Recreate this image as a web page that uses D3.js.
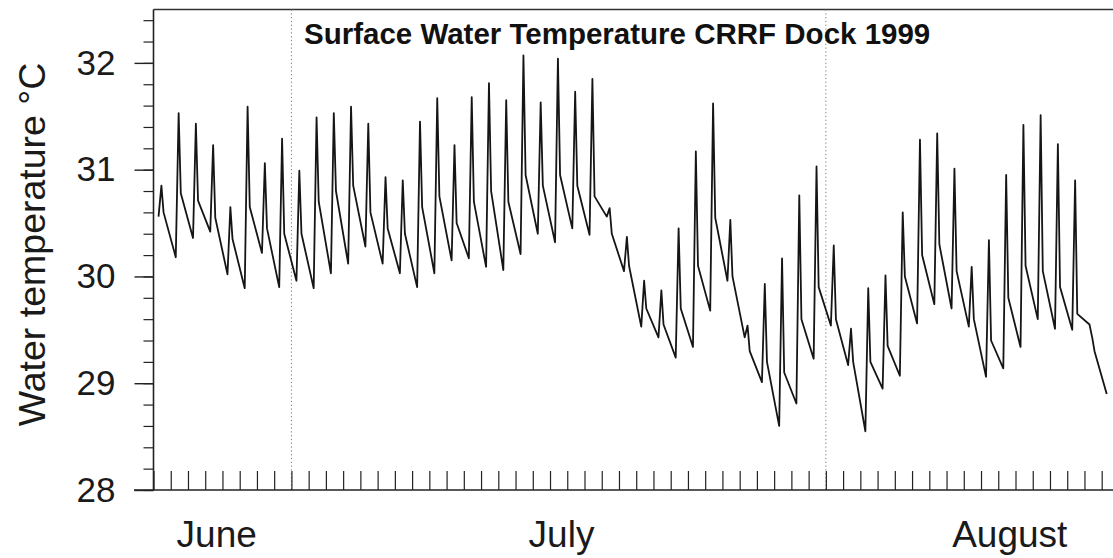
<!DOCTYPE html>
<html><head><meta charset="utf-8">
<script src="https://cdn.jsdelivr.net/npm/d3@7"></script>
<style>html,body{margin:0;padding:0;background:#fff;overflow:hidden;} svg{display:block;font-family:"Liberation Sans",Arial,Helvetica,sans-serif;}</style>
</head><body><svg id="c" width="1113" height="558"></svg>
<script>
// ---------------- data ----------------
const startDay = "1999-06-23";
const endDay = "1999-08-18";
// per-day readings (index 0 = 23 June): morning minimum, afternoon peak, evening value
const dayMin = [30.56,30.18,30.36,30.42,30.02,29.89,30.22,29.90,29.96,29.89,
                30.03,30.12,30.28,30.12,30.03,29.90,30.03,30.15,30.17,30.09,
                30.06,30.21,30.40,30.32,30.45,30.39,30.56,30.05,29.53,29.43,
                29.24,29.34,29.68,29.96,29.43,29.01,28.60,28.81,29.23,29.54,
                29.17,28.55,28.95,29.07,29.56,29.74,29.70,29.53,29.06,29.14,
                29.34,29.60,29.51,29.50,29.55,28.90];
const dayMax = [30.85,31.53,31.43,31.23,30.65,31.59,31.06,31.29,30.99,31.49,
                31.53,31.59,31.43,30.93,30.90,31.45,31.67,31.23,31.68,31.81,
                31.65,32.07,31.63,32.04,31.73,31.85,30.64,30.37,29.96,29.87,
                30.45,31.17,31.62,30.53,29.54,29.93,30.17,30.76,31.03,30.29,
                29.51,29.89,30.01,30.60,31.28,31.34,31.01,30.09,30.34,30.95,
                31.42,31.51,31.24,30.90,29.42,null];
const dayEve = [30.60,30.78,30.71,30.55,30.35,30.65,30.45,30.40,30.40,30.70,
                30.80,30.85,30.60,30.45,30.40,30.65,30.75,30.50,30.70,30.80,
                30.70,30.95,30.85,30.95,30.85,30.75,30.40,30.10,29.70,29.55,
                29.70,30.10,30.55,30.00,29.30,29.20,29.10,29.60,29.90,29.60,
                29.20,29.20,29.35,30.00,30.20,30.30,30.05,29.60,29.40,29.80,
                30.10,30.05,29.90,29.65,29.30,null];
const yMajorTicks = [28, 29, 30, 31, 32];
const monthNames = ["June", "July", "August"];
const monthStarts = ["1999-07-01", "1999-08-01"];
const chartTitle = "Surface Water Temperature CRRF Dock 1999";
const yAxisTitle = "Water temperature \u00B0C";

// ---------------- build series ----------------
const parse = d3.timeParse("%Y-%m-%d");
const t0 = parse(startDay), t1 = parse(endDay);
const series = [];
dayMin.forEach((v, i) => {
  const day = d3.timeDay.offset(t0, i);
  if (v != null) series.push({t: d3.timeHour.offset(day, 7), v: v});
  if (dayMax[i] != null) series.push({t: d3.timeHour.offset(day, 11), v: dayMax[i]});
  if (dayEve[i] != null) series.push({t: d3.timeHour.offset(day, 14), v: dayEve[i]});
});

// ---------------- layout ----------------
const svg = d3.select("#c");
const left = 153.5, pxPerDay = 17.24;
const x = d3.scaleTime().domain([t0, t1]).range([left, left + pxPerDay * d3.timeDay.count(t0, t1)]);
const y = d3.scaleLinear().domain([28, 32.5]).range([490, 9.5]);
const W = 1113;

// frame top line
svg.append("line").attr("x1", left).attr("x2", W).attr("y1", y(32.5)).attr("y2", y(32.5))
  .attr("stroke", "#333").attr("stroke-width", 1.6);

// month divider dotted lines
svg.selectAll("line.div").data(monthStarts).enter().append("line").attr("class", "div")
  .attr("x1", d => x(parse(d))).attr("x2", d => x(parse(d)))
  .attr("y1", y(32.5)).attr("y2", y(28))
  .attr("stroke", "#777").attr("stroke-width", 1).attr("stroke-dasharray", "1.2,2.6");

// bottom axis: daily ticks pointing up
const xAxis = d3.axisBottom(x).ticks(d3.timeDay.every(1)).tickSize(-19).tickFormat("");
const gx = svg.append("g").attr("transform", `translate(0,${y(28)})`).call(xAxis);
gx.select(".domain").remove();
gx.selectAll(".tick line").attr("stroke", "#222").attr("stroke-width", 1.2);
svg.append("line").attr("x1", 134).attr("x2", W).attr("y1", y(28)).attr("y2", y(28))
  .attr("stroke", "#222").attr("stroke-width", 1.6);

// left axis: minor ticks
const minor = d3.range(28, 32.41, 0.2).map(v => +v.toFixed(1));
const gyMinor = svg.append("g").attr("transform", `translate(${left},0)`)
  .call(d3.axisLeft(y).tickValues(minor).tickSize(10).tickFormat(""));
gyMinor.select(".domain").remove();
gyMinor.selectAll(".tick line").attr("stroke", "#222").attr("stroke-width", 1.2);
// left axis: major ticks + labels
const gy = svg.append("g").attr("transform", `translate(${left},0)`)
  .call(d3.axisLeft(y).tickValues(yMajorTicks).tickSize(19).tickPadding(19).tickFormat(d3.format("d")));
gy.select(".domain").attr("d", `M0,${y(32.5)}V${y(28)}`).attr("stroke", "#222").attr("stroke-width", 1.6);
gy.selectAll(".tick line").attr("stroke", "#222").attr("stroke-width", 1.4);
gy.selectAll(".tick text").attr("font-size", 35).attr("fill", "#1a1a1a")
  .attr("font-family", "'Liberation Sans',Arial,sans-serif");

// data line
const line = d3.line().x(d => x(d.t)).y(d => y(d.v)).curve(d3.curveLinear);
svg.append("path").datum(series).attr("d", line)
  .attr("fill", "none").attr("stroke", "#151515").attr("stroke-width", 1.8).attr("stroke-linejoin", "round");

// title
svg.append("text").attr("x", 304).attr("y", 44).text(chartTitle)
  .attr("font-weight", "bold").attr("font-size", 29.5).attr("fill", "#111");

// month labels
const monthAt = [parse("1999-06-26"), parse("1999-07-16"), parse("1999-08-11")];
svg.selectAll("text.month").data(monthNames).enter().append("text").attr("class", "month")
  .attr("x", (d, i) => x(d3.timeHour.offset(monthAt[i], 16)))
  .attr("y", 547).attr("text-anchor", "middle").attr("font-size", 37).attr("fill", "#1a1a1a")
  .text(d => d);

// y title
svg.append("text").attr("transform", `translate(45,${y(30.3)}) rotate(-90)`)
  .attr("text-anchor", "middle").attr("font-size", 37.5).attr("fill", "#1a1a1a").text(yAxisTitle);
</script></body></html>
